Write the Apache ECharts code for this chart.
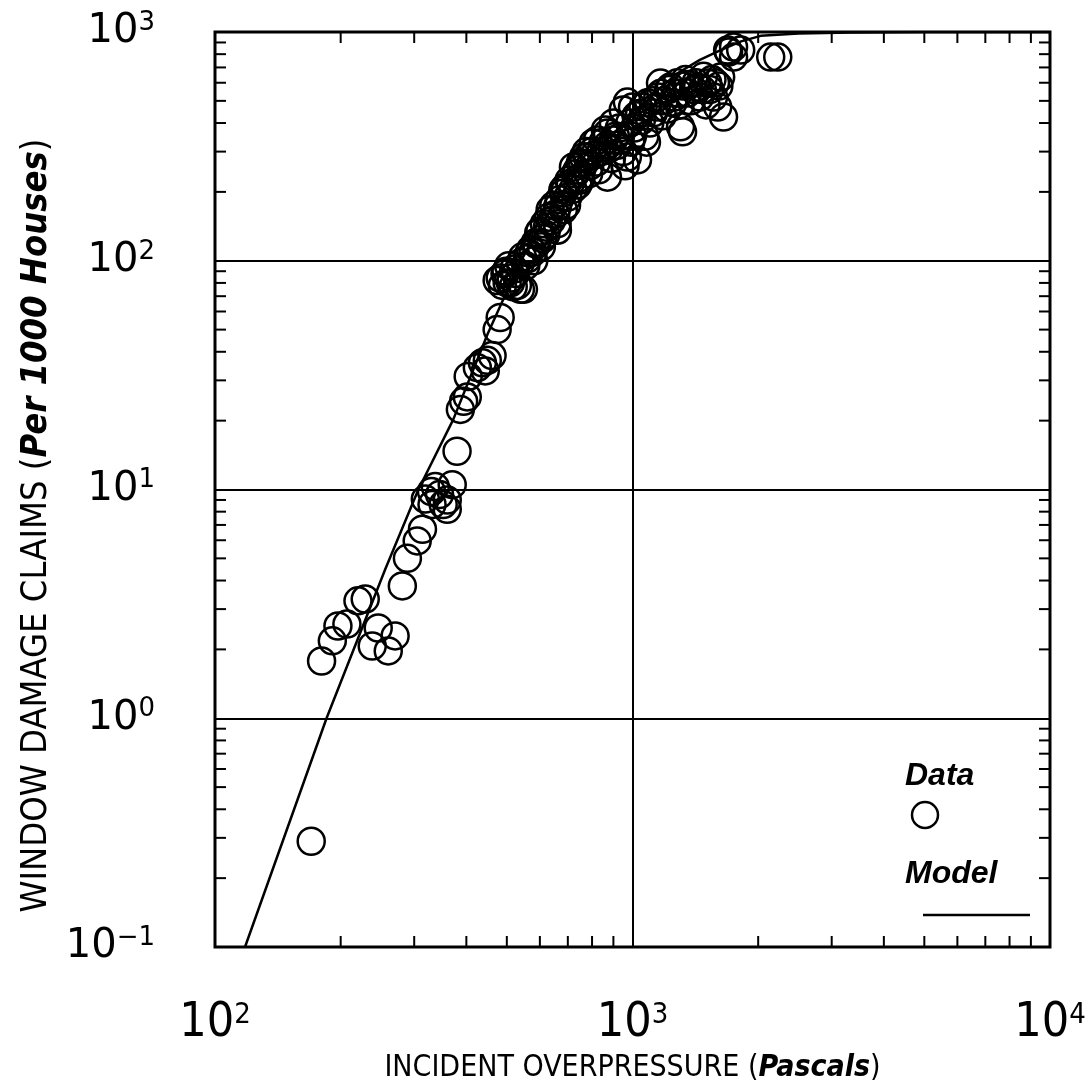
<!DOCTYPE html>
<html>
<head>
<meta charset="utf-8">
<script src="https://cdn.jsdelivr.net/npm/echarts@6/dist/echarts.min.js"></script>
<style>
  html, body { margin: 0; padding: 0; background: #fff; }
  #container { width: 1089px; height: 1080px; }
</style>
</head>
<body>
<div id="container"></div>
<script>
// observed window damage claims vs incident overpressure
var pressures = [170, 180, 191, 197, 207, 220, 229, 246, 238, 260, 270, 281, 289, 305, 314, 319, 337, 331, 352, 360,
  370, 380, 387, 394, 402, 404, 425, 437, 449, 461, 444, 474, 482, 501, 518, 539, 482, 560, 578, 510,
  548, 539, 570, 596, 625, 661, 683, 681, 710, 737, 750, 779, 824, 861, 900, 935, 972, 1028, 871, 750,
  1000, 972, 1086, 1122, 1167, 1233, 1303, 1355, 1432, 1514, 1564, 1652, 1626, 1690, 1816, 1746, 2143, 2228, 1699, 1746,
  1318, 474, 530, 635, 661, 683, 722, 763, 805, 871, 900, 950, 495, 520, 505, 555, 590, 610, 640, 655,
  700, 720, 745, 790, 800, 840, 880, 920, 950, 990, 1010, 1050, 1070, 1100, 1140, 1190, 1210, 1260, 1280, 1300,
  1340, 1380, 1400, 1450, 1480, 1500, 1530, 1580, 1600, 1040, 1150, 1080, 960, 890, 830, 345, 330, 360,
  488, 498, 512, 525, 545, 565, 585, 600, 615, 630, 648, 668, 690, 705, 730, 760, 775, 810, 850, 870,
  910, 930, 985, 1020, 1060, 1120, 1170, 1220, 1290, 1320, 1360, 1420, 1470, 1550, 1610, 1250, 1180, 1000,
  580, 605, 620, 660, 695, 740, 785, 820];
var claims = [0.29, 1.78, 2.18, 2.53, 2.58, 3.26, 3.32, 2.48, 2.07, 1.97, 2.29, 3.79, 5.0, 5.96, 6.7, 9.08, 10.3, 8.6, 8.6, 8.2,
  10.5, 14.7, 22.4, 24.3, 25.4, 31.2, 34.1, 35.8, 36.7, 38.5, 33, 50, 56.5, 80, 77, 75, 84, 102, 109, 80,
  75, 98, 112, 132, 140, 172, 167, 204, 218, 249, 268, 284, 337, 373, 337, 348, 284, 276, 232, 225,
  470, 494, 490, 443, 598, 575, 385, 541, 575, 598, 520, 425, 635, 834, 834, 777, 777, 777, 818, 860,
  366, 82, 78, 167, 136, 198, 257, 284, 327, 362, 400, 456, 88, 92, 95, 95, 118, 125, 150, 160,
  190, 205, 230, 260, 300, 300, 310, 320, 300, 330, 380, 410, 350, 400, 470, 500, 460, 520, 600, 480,
  620, 500, 560, 520, 640, 480, 560, 600, 470, 440, 520, 330, 260, 280, 250, 9.5, 9.8, 9.0,
  78, 90, 84, 88, 104, 108, 120, 135, 145, 155, 175, 185, 210, 225, 240, 265, 300, 290, 330, 320,
  350, 380, 400, 430, 470, 500, 540, 560, 540, 580, 590, 600, 560, 620, 580, 490, 430, 350,
  100, 115, 130, 145, 175, 215, 240, 270];

// model curve
var modelPressures = [118, 185, 256, 307, 372, 450, 540, 640, 740, 860, 1000, 1140, 1282, 1450, 1626, 1820, 2028, 2500, 3336, 5000, 10000];
var modelClaims = [0.1, 1.0, 4.5, 10, 20.2, 48, 100, 170, 250, 335, 430, 550, 660, 755, 834, 910, 962, 985, 995, 999, 1000];

// minor tick values
var xMinorTicks = [200, 300, 400, 500, 600, 700, 800, 900, 2000, 3000, 4000, 5000, 6000, 7000, 8000, 9000];
var yMinorTicks = [0.2, 0.3, 0.4, 0.5, 0.6, 0.7, 0.8, 0.9, 2, 3, 4, 5, 6, 7, 8, 9,
  20, 30, 40, 50, 60, 70, 80, 90, 200, 300, 400, 500, 600, 700, 800, 900];

var chartDom = document.getElementById('container');
var myChart = echarts.init(chartDom);
var option;

var narrow = '"Liberation Sans Narrow", "DejaVu Sans Condensed", sans-serif';
var wide = '"DejaVu Sans", sans-serif';

function powLabel(v) {
  var e = Math.round(Math.log10(v));
  return '{b|10}{s|' + (e < 0 ? '\u2212' + (-e) : e) + '}';
}

var dataPts = pressures.map(function (p, i) { return [p, claims[i]]; });
var modelPts = modelPressures.map(function (p, i) { return [p, modelClaims[i]]; });
var TICK = 11;

option = {
  backgroundColor: '#fff',
  animation: false,
  grid: {
    left: 215, right: 39, top: 32, bottom: 133,
    outerBoundsMode: 'none',
    show: true, borderColor: '#000', borderWidth: 3
  },
  xAxis: {
    type: 'log', logBase: 10, min: 100, max: 10000,
    name: 'INCIDENT OVERPRESSURE ({i|Pascals})',
    nameLocation: 'middle', nameGap: 98,
    nameTextStyle: {
      fontFamily: narrow, fontSize: 30, color: '#000',
      rich: { i: { fontFamily: narrow, fontSize: 30, fontStyle: 'italic', fontWeight: 'bold', color: '#000' } }
    },
    axisLine: { show: false },
    axisTick: { show: false },
    splitLine: { show: true, lineStyle: { color: '#000', width: 2 } },
    axisLabel: {
      margin: 54,
      formatter: powLabel,
      rich: {
        b: { fontFamily: narrow, fontSize: 48, color: '#000', lineHeight: 46 },
        s: { fontFamily: narrow, fontSize: 29, color: '#000', verticalAlign: 'top' }
      }
    }
  },
  yAxis: {
    type: 'log', logBase: 10, min: 0.1, max: 1000,
    name: 'WINDOW DAMAGE CLAIMS ({i|Per 1000 Houses})',
    nameLocation: 'middle', nameGap: 150,
    nameTextStyle: {
      fontFamily: narrow, fontSize: 36, color: '#000', padding: [0, 72, 0, 0],
      rich: { i: { fontFamily: narrow, fontSize: 36, fontStyle: 'italic', fontWeight: 'bold', color: '#000' } }
    },
    axisLine: { show: false },
    axisTick: { show: false },
    splitLine: { show: true, lineStyle: { color: '#000', width: 2 } },
    axisLabel: {
      margin: 60,
      formatter: powLabel,
      rich: {
        b: { fontFamily: wide, fontSize: 40, color: '#000', lineHeight: 44 },
        s: { fontFamily: wide, fontSize: 26, color: '#000', verticalAlign: 'top' }
      }
    }
  },
  graphic: [
    { type: 'text', left: 905, top: 760, style: { text: 'Data', font: 'italic bold 32px "Liberation Sans", sans-serif', fill: '#000' } },
    { type: 'circle', shape: { cx: 925, cy: 815, r: 13 }, style: { fill: 'none', stroke: '#000', lineWidth: 2.5 } },
    { type: 'text', left: 905, top: 858, style: { text: 'Model', font: 'italic bold 32px "Liberation Sans", sans-serif', fill: '#000' } },
    { type: 'line', shape: { x1: 923, y1: 915, x2: 1030, y2: 915 }, style: { stroke: '#000', lineWidth: 2.5 } }
  ],
  series: [
    {
      type: 'custom', silent: true, clip: false,
      data: xMinorTicks.map(function (v) { return [v, 1]; }),
      renderItem: function (params, api) {
        var cs = params.coordSys;
        var x = api.coord([api.value(0), 1])[0];
        var st = { stroke: '#000', lineWidth: 2 };
        return { type: 'group', children: [
          { type: 'line', shape: { x1: x, y1: cs.y + cs.height, x2: x, y2: cs.y + cs.height - TICK }, style: st },
          { type: 'line', shape: { x1: x, y1: cs.y, x2: x, y2: cs.y + TICK }, style: st }
        ] };
      }
    },
    {
      type: 'custom', silent: true, clip: false,
      data: yMinorTicks.map(function (v) { return [1000, v]; }),
      renderItem: function (params, api) {
        var cs = params.coordSys;
        var y = api.coord([1000, api.value(1)])[1];
        var st = { stroke: '#000', lineWidth: 2 };
        return { type: 'group', children: [
          { type: 'line', shape: { x1: cs.x, y1: y, x2: cs.x + TICK, y2: y }, style: st },
          { type: 'line', shape: { x1: cs.x + cs.width, y1: y, x2: cs.x + cs.width - TICK, y2: y }, style: st }
        ] };
      }
    },
    {
      name: 'Model', type: 'line', data: modelPts, smooth: false,
      showSymbol: false, clip: true,
      lineStyle: { color: '#000', width: 2.5 }
    },
    {
      name: 'Data', type: 'scatter', data: dataPts, symbol: 'circle', symbolSize: 27,
      itemStyle: { color: 'rgba(0,0,0,0)', borderColor: '#000', borderWidth: 2.5, opacity: 1 }
    }
  ]
};

option && myChart.setOption(option);
</script>
</body>
</html>
